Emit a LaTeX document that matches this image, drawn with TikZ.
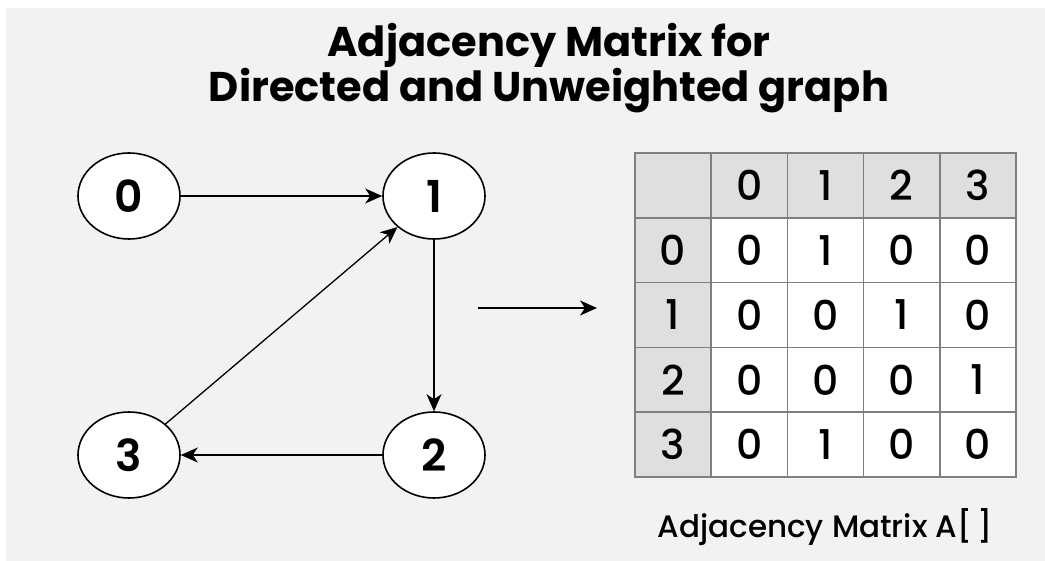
\documentclass[tikz,border=0pt]{standalone}
\usepackage{fontspec}
\setmainfont{Poppins}
\newfontfamily\pmed{Poppins Medium}
\newfontfamily\psemi{Poppins SemiBold}
\usetikzlibrary{shapes.geometric,arrows.meta}
\definecolor{bg}{HTML}{F2F2F2}
\definecolor{cellgray}{HTML}{DFDFDF}
\definecolor{gridline}{HTML}{7F7F7F}
\begin{document}
\begin{tikzpicture}[x=1pt,y=-1pt,
  vert/.style={ellipse,draw,line width=1.6pt,fill=white,minimum width=102pt,minimum height=86pt,inner sep=0pt,font=\psemi\fontsize{44}{44}\selectfont},
  edge/.style={line width=1.3pt,-{Stealth[length=17pt,width=15pt,inset=5pt]}},
  cell/.style={draw=gridline,line width=1.5pt,minimum width=76.2pt,minimum height=64.8pt,inner sep=0pt,font=\pmed\fontsize{41}{41}\selectfont},
  hcell/.style={cell,fill=cellgray},
  bcell/.style={cell,fill=white}
]
\useasboundingbox (0,0) rectangle (1045,561);
\fill[white] (0,0) rectangle (1045,561);
\fill[bg] (6,8) rectangle (1045,561);

\node[align=center,font=\bfseries\fontsize{41.5}{43}\selectfont] (title) at (549,68)
  {Adjacency Matrix for\\Directed and Unweighted graph};

\node[vert] (n0) at (129,196) {0};
\node[vert] (n1) at (434,196) {1};
\node[vert] (n2) at (434,455) {2};
\node[vert] (n3) at (129,455) {3};

\draw[edge] (n0) -- (n1);
\draw[edge] (n1) -- (n2);
\draw[edge] (n2) -- (n3);
\draw[edge] (n3) -- (n1);

\coordinate (a1) at (478,308);
\coordinate (a2) at (597,308);
\draw[edge] (a1) -- (a2);

% matrix
\def\mx{635}\def\my{153}\def\cw{76.2}\def\ch{64.8}
\node[hcell] (c00) at ({\mx+0.5*\cw},{\my+0.5*\ch}) {};
\foreach \j/\t in {1/0,2/1,3/2,4/3}
  \node[hcell] (c0\j) at ({\mx+(\j+0.5)*\cw},{\my+0.5*\ch}) {\t};
\foreach \i/\t in {1/0,2/1,3/2,4/3}
  \node[hcell] (c\i0) at ({\mx+0.5*\cw},{\my+(\i+0.5)*\ch}) {\t};
\foreach \i/\row in {1/{0,1,0,0},2/{0,0,1,0},3/{0,0,0,1},4/{0,1,0,0}}{
  \foreach \v [count=\j] in \row
    \node[bcell] (c\i\j) at ({\mx+(\j+0.5)*\cw},{\my+(\i+0.5)*\ch}) {\v};
}

\node[anchor=base,font=\pmed\fontsize{31}{31}\selectfont] (cap) at (825,537) {Adjacency Matrix A[\,]};
\end{tikzpicture}
\end{document}
